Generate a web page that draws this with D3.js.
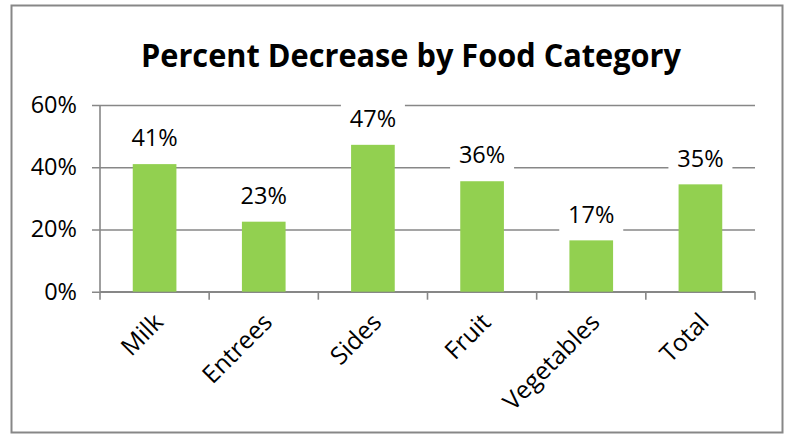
<!DOCTYPE html>
<html>
<head>
<meta charset="utf-8">
<script src="https://cdn.jsdelivr.net/npm/d3@7"></script>
<style>
  body { margin: 0; background: #fff; }
  text { font-family: "Open Sans", "Noto Sans", sans-serif; fill: #000; }
</style>
</head>
<body>
<svg id="chart" width="789" height="434"></svg>
<script>
var categories = ["Milk", "Entrees", "Sides", "Fruit", "Vegetables", "Total"];
var values = [0.41, 0.225, 0.472, 0.355, 0.165, 0.345];
var yTicks = [0, 0.2, 0.4, 0.6];
var title = "Percent Decrease by Food Category";

var svg = d3.select("#chart"),
    margin = {top: 105, right: 34, bottom: 142.3, left: 100},
    width = +svg.attr("width") - margin.left - margin.right,
    height = +svg.attr("height") - margin.top - margin.bottom,
    grey = "#878787";

// outer frame
svg.append("rect")
    .attr("x", 11.5).attr("y", 5.5)
    .attr("width", 771).attr("height", 427)
    .attr("fill", "#fff")
    .attr("stroke", grey)
    .attr("stroke-width", 2);

// title, squeezed to the reference width (Calibri is narrower)
svg.append("text")
    .attr("x", 411).attr("y", 67)
    .attr("text-anchor", "middle")
    .attr("font-weight", "bold")
    .attr("font-size", 32)
    .attr("textLength", 540)
    .attr("lengthAdjust", "spacingAndGlyphs")
    .text(title);

var x = d3.scaleBand().domain(categories).range([0, width])
    .paddingInner(0.6).paddingOuter(0.3);
var y = d3.scaleLinear().domain([0, 0.6]).range([height, 0]);

var g = svg.append("g").attr("transform", "translate(" + margin.left + "," + margin.top + ")");

// gridlines + y ticks
g.append("g")
    .attr("class", "y axis")
    .call(d3.axisLeft(y).tickValues(yTicks).tickFormat(d3.format(".0%"))
        .tickSizeInner(-width).tickSizeOuter(0).tickPadding(23))
    .call(function(a) {
        a.select(".domain").remove();
        a.selectAll(".tick line").attr("x1", -8).attr("stroke", grey).attr("stroke-width", 1.6);
        a.selectAll(".tick text").attr("font-size", 23.5).attr("font-family", "Open Sans").attr("fill", "#000");
    });

// y axis line
g.append("line")
    .attr("x1", 0).attr("x2", 0).attr("y1", 0).attr("y2", height)
    .attr("stroke", grey).attr("stroke-width", 1.6);

// x axis with ticks between categories
var bounds = d3.range(categories.length + 1).map(function(i) { return i * x.step(); });
var xa = g.append("g").attr("class", "x axis").attr("transform", "translate(0," + height + ")");
xa.append("line").attr("x1", 0).attr("x2", width)
    .attr("stroke", grey).attr("stroke-width", 1.6);
xa.selectAll(".xt").data(bounds).enter().append("line")
    .attr("class", "xt")
    .attr("x1", function(d) { return d; }).attr("x2", function(d) { return d; })
    .attr("y1", 0).attr("y2", 8)
    .attr("stroke", grey).attr("stroke-width", 1.6);

xa.selectAll(".xl").data(categories).enter().append("text")
    .attr("class", "xl")
    .attr("text-anchor", "end")
    .attr("font-size", 24.5)
    .attr("transform", function(d) {
        return "translate(" + (x(d) + x.bandwidth() / 2 + 10) + ",32) rotate(-45)";
    })
    .text(function(d) { return d; });

// bars
g.selectAll(".bar")
    .data(values)
  .enter().append("rect")
    .attr("class", "bar")
    .attr("x", function(d, i) { return x(categories[i]); })
    .attr("y", function(d) { return y(d); })
    .attr("width", x.bandwidth())
    .attr("height", function(d) { return height - y(d); })
    .attr("fill", "#92D050");

// data labels with white boxes
var lab = g.selectAll(".lab").data(values).enter().append("g")
    .attr("class", "lab")
    .attr("transform", function(d, i) {
        return "translate(" + (x(categories[i]) + x.bandwidth() / 2) + "," + (y(d) - 26) + ")";
    });
lab.append("rect")
    .attr("x", -32).attr("y", -22).attr("width", 64).attr("height", 44)
    .attr("fill", "#fff");
lab.append("text")
    .attr("text-anchor", "middle")
    .attr("dy", "0.35em")
    .attr("font-size", 23.5)
    .text(function(d) { return Math.round(d * 100) + "%"; });
</script>
</body>
</html>
